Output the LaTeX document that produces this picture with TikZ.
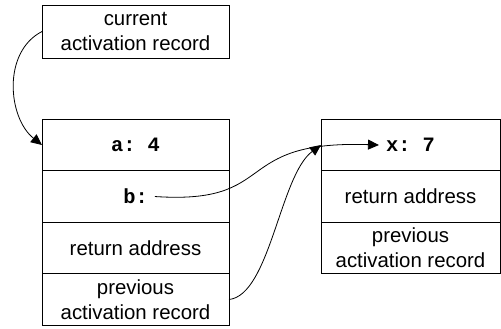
\documentclass[tikz,border=0pt]{standalone}
\usepackage{fontspec}
\setmainfont{Liberation Sans}
\setmonofont{Liberation Mono}
\usepackage{tikz}
\usetikzlibrary{positioning}
\usetikzlibrary{shapes.geometric, arrows.meta}
\tikzstyle{box} = [rectangle, draw=black, align=center, inner sep=0pt, outer sep=0pt, minimum width=93.5pt, minimum height=26.5pt]
\tikzstyle{slot} = [box, minimum height=25.75pt]
\tikzstyle{rslot} = [slot, minimum width=89.5pt]
\tikzstyle{arrow} = [->,>={Triangle[length=5.5pt,width=5pt]}]
\newcommand{\val}[1]{\texttt{\textbf{#1}}}

\begin{document}
\begin{tikzpicture}[x=0.5pt, y=-0.5pt, font=\fontsize{10.2}{12.5}\selectfont]
\useasboundingbox (0,0) rectangle (501,328);

\node (current) [box] at (135.5,31.5) {current\\activation record};

% caller's record
\node (avar) [slot] at (135.5,145) {\val{a: 4}};
\node (bslot) [slot, below=0pt of avar] {};
\node (bval) at (bslot) {\val{b:}};
\node (retaddr) [slot, below=0pt of bslot] {return address};
\node (prevrec) [slot, below=0pt of retaddr] {previous\\activation record};

% callee's record
\node (xslot) [rslot] at (410.5,145) {};
\node (xval) at (xslot) {\val{x: 7}};
\node (xret) [rslot, below=0pt of xslot] {return address};
\node (xprev) [rslot, below=0pt of xret] {previous\\activation record};

\draw [arrow] (current.west) .. controls (2,52) and (8,118) .. (avar.west);
\draw [arrow] (bval.east) .. controls (280,205) and (230,140) .. (xval.west);
\draw [arrow] (prevrec.east) .. controls (270,295) and (280,175) .. (xslot.west);
\end{tikzpicture}
\end{document}
